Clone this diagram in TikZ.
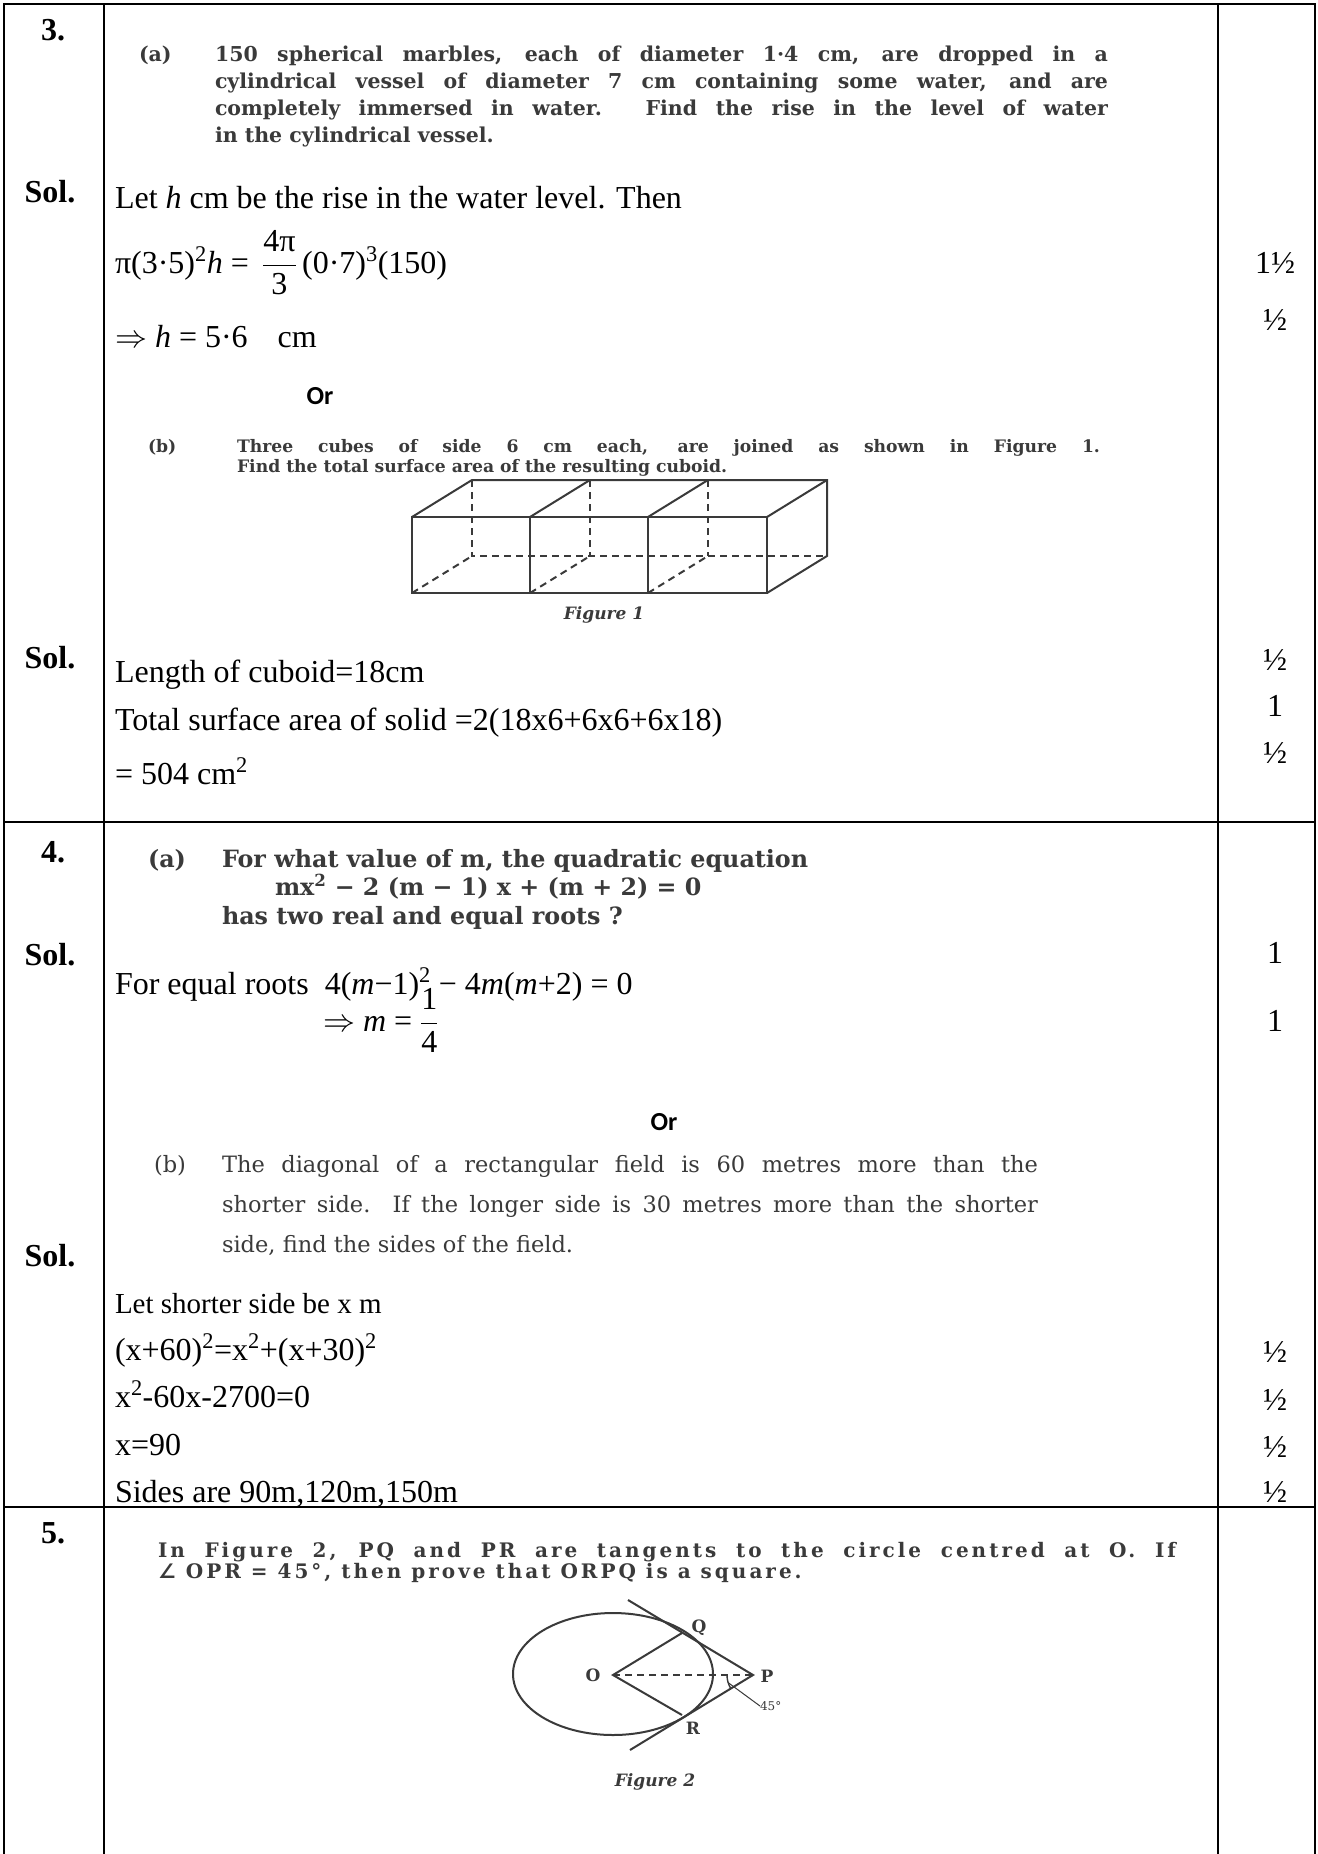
\documentclass[tikz,border=0pt]{standalone}
\usepackage{fix-cm}
\usepackage{amsmath}
\usepackage{fontspec}
\setmainfont{Liberation Serif}
\newfontfamily\scan{DejaVu Serif}
\newfontfamily\scanwide{DejaVu Serif}[LetterSpace=15]
\newfontfamily\symfont{DejaVu Sans}
\newfontfamily\orfont{Carlito}
\usetikzlibrary{positioning}
\definecolor{ink}{HTML}{3A3A3A}

\begin{document}
\begin{tikzpicture}[x=1pt,y=-1pt]
			\tikzstyle{every node}=[inner sep=0pt,outer sep=0pt]
			\tikzstyle{rule}=[line width=2.6pt]
			\tikzstyle{sol}=[anchor=base west,font=\fontsize{32}{38}\selectfont]
			\tikzstyle{qno}=[anchor=base,font=\bfseries\fontsize{32}{38}\selectfont]
			\tikzstyle{marks}=[anchor=base,font=\fontsize{32}{38}\selectfont]
			\tikzstyle{qa}=[anchor=base west,text=ink,font=\scan\bfseries\fontsize{20.5}{27}\selectfont]
			\tikzstyle{qb}=[anchor=base west,text=ink,font=\scan\bfseries\fontsize{17.2}{20}\selectfont]
			\tikzstyle{qc}=[anchor=base west,text=ink,font=\scan\bfseries\fontsize{23.8}{28}\selectfont]
			\tikzstyle{qd}=[anchor=base west,text=ink,font=\scan\fontsize{22.5}{40}\selectfont]
			\tikzstyle{qe}=[anchor=base west,text=ink,font=\scanwide\bfseries\fontsize{20}{21}\selectfont]
			\tikzstyle{ornode}=[anchor=base,font=\orfont\bfseries\fontsize{26}{30}\selectfont]
			\tikzstyle{figcap}=[anchor=base,text=ink,font=\scan\bfseries\itshape\fontsize{17}{20}\selectfont]
			\tikzstyle{fig}=[line width=2pt,draw=ink]
			\tikzstyle{hidden}=[dash pattern=on 7pt off 5pt]
			\tikzstyle{lbl}=[text=ink,font=\scan\bfseries\fontsize{17}{20}\selectfont]
			
			\useasboundingbox (0,0) rectangle (1317,1854);
			\fill[white] (0,0) rectangle (1317,1854);
			
			% table rules
			\draw[rule] (4,1854) -- (4,4) -- (1315,4) -- (1315,1854);
			\draw[rule] (104,4) -- (104,1854);
			\draw[rule] (1218,4) -- (1218,1854);
			\draw[rule] (4,822) -- (1315,822);
			\draw[rule] (4,1507) -- (1315,1507);
			
			% question 3
			\node[qno] (n3) at (53,41) {3.};
			\node[qa] (a3) at (139,62) {(a)};
			\node[qa] (a3l1) at (215,62) {\makebox[893pt][s]{150 spherical marbles, each of diameter 1·4 cm, are dropped in a}};
			\node[qa] (a3l2) at (215,89) {\makebox[893pt][s]{cylindrical vessel of diameter 7 cm containing some water, and are}};
			\node[qa] (a3l3) at (215,116) {\makebox[893pt][s]{completely immersed in water. Find the rise in the level of water}};
			\node[qa] (a3l4) at (215,143) {in the cylindrical vessel.};
			\node[qno] (s3a) at (50,203) {Sol.};
			\node[sol] (r1) at (115,208) {Let \textit{h} cm be the rise in the water level. Then};
			\node[sol] (r2) at (115,273) {π(3·5)\textsuperscript{2}\textit{h} = \,$\dfrac{\text{4π}}{\text{3}}$\,(0·7)\textsuperscript{3}(150)};
			\node[sol] (r3) at (115,347) {$\Rightarrow$ \textit{h} = 5·6\hspace{30pt}cm};
			\node[marks] (m1) at (1275,273) {1½};
			\node[marks] (m2) at (1275,330) {½};
			\node[ornode] (or1) at (320,404) {Or};
			\node[qb] (b3) at (148,452) {(b)};
			\node[qb] (b3l1) at (237,452) {\makebox[863pt][s]{Three cubes of side 6 cm each, are joined as shown in Figure 1.}};
			\node[qb] (b3l2) at (237,472) {Find the total surface area of the resulting cuboid.};
			
			% cubes
			\draw[fig] (412,517) rectangle (767,593);
			\draw[fig] (530,517) -- (530,593) (648,517) -- (648,593);
			\draw[fig] (412,517) -- (472,480) -- (827,480) -- (827,556) -- (767,593);
			\draw[fig] (530,517) -- (590,480) (648,517) -- (708,480) (767,517) -- (827,480);
			\draw[fig,hidden] (472,480) -- (472,556) -- (827,556);
			\draw[fig,hidden] (590,480) -- (590,556) (708,480) -- (708,556);
			\draw[fig,hidden] (412,593) -- (472,556) (530,593) -- (590,556) (648,593) -- (708,556);
			\node[figcap] (fig1) at (604,619) {Figure 1};
			
			\node[qno] (s3b) at (50,668) {Sol.};
			\node[sol] (r4) at (115,682) {Length of cuboid=18cm};
			\node[sol] (r5) at (115,730) {Total surface area of solid =2(18x6+6x6+6x18)};
			\node[sol] (r6) at (115,784) {= 504 cm\textsuperscript{2}};
			\node[marks] (m3) at (1275,670) {½};
			\node[marks] (m4) at (1275,716) {1};
			\node[marks] (m5) at (1275,763) {½};
			
			% question 4
			\node[qno] (n4) at (53,862) {4.};
			\node[qc] (a4) at (148,867) {(a)};
			\node[qc] (a4l1) at (222,867) {For what value of m, the quadratic equation};
			\node[qc] (a4l2) at (275,895) {mx\textsuperscript{2} − 2 (m − 1) x + (m + 2) = 0};
			\node[qc] (a4l3) at (222,924) {has two real and equal roots ?};
			\node[qno] (s4a) at (50,965) {Sol.};
			\node[sol] (r7) at (115,994) {For equal roots\enspace 4(\textit{m}−1)\textsuperscript{2} − 4\textit{m}(\textit{m}+2) = 0};
			\node[sol] (r8) at (323,1031) {$\Rightarrow$ \textit{m} = $\dfrac{\text{1}}{\text{4}}$};
			\node[marks] (m6) at (1275,963) {1};
			\node[marks] (m7) at (1275,1031) {1};
			\node[ornode] (or2) at (664,1130) {Or};
			\node[qd] (b4) at (154,1172) {(b)};
			\node[qd] (b4l1) at (222,1172) {\makebox[816pt][s]{The diagonal of a rectangular field is 60 metres more than the}};
			\node[qd] (b4l2) at (222,1212) {\makebox[816pt][s]{shorter side. If the longer side is 30 metres more than the shorter}};
			\node[qd] (b4l3) at (222,1252) {side, find the sides of the field.};
			\node[qno] (s4b) at (50,1266) {Sol.};
			\node[sol,font=\fontsize{29}{34}\selectfont] (r9) at (115,1313) {Let shorter side be x m};
			\node[sol] (r10) at (115,1360) {(x+60)\textsuperscript{2}=x\textsuperscript{2}+(x+30)\textsuperscript{2}};
			\node[sol] (r11) at (115,1407) {x\textsuperscript{2}-60x-2700=0};
			\node[sol] (r12) at (115,1455) {x=90};
			\node[sol] (r13) at (115,1502) {Sides are 90m,120m,150m};
			\node[marks] (m8) at (1275,1362) {½};
			\node[marks] (m9) at (1275,1410) {½};
			\node[marks] (m10) at (1275,1457) {½};
			\node[marks] (m11) at (1275,1502) {½};
			
			% question 5
			\node[qno] (n5) at (53,1543) {5.};
			\node[qe] (q5l1) at (158,1557) {\makebox[1018pt][s]{In Figure 2, PQ and PR are tangents to the circle centred at O. If}};
			\node[qe] (q5l2) at (158,1578) {{\symfont ∠} OPR = 45°, then prove that ORPQ is a square.};
			
			\coordinate (O) at (613,1675);
			\coordinate (Q) at (682,1633);
			\coordinate (R) at (682,1715);
			\coordinate (P) at (753,1675);
			\coordinate (Qt) at (628,1600);
			\coordinate (Rt) at (630,1750);
			\draw[fig] (613,1674) ellipse [x radius=100,y radius=61];
			\draw[fig] (Qt) -- (P) -- (Rt);
			\draw[fig] (Q) -- (O) -- (R);
			\draw[fig,hidden] (O) -- (P);
			\draw[fig,line width=1.4pt] (P) ++(180:26) arc[start angle=180,end angle=150,radius=26];
			\path (P) ++(163:26) coordinate (ak);
			\node[lbl] (lo) at (593,1675) {O};
			\node[lbl] (lq) at (699,1628) {Q};
			\node[lbl] (lp) at (767,1676) {P};
			\node[lbl] (lr) at (693,1728) {R};
			\node[text=ink,anchor=west,font=\scan\fontsize{12}{14}\selectfont] (deg) at (760,1706) {45°};
			\draw[fig,line width=1pt] (ak) -- (deg.west);
			\node[figcap] (fig2) at (655,1786) {Figure 2};
			
			;\end{tikzpicture}
\end{document}
